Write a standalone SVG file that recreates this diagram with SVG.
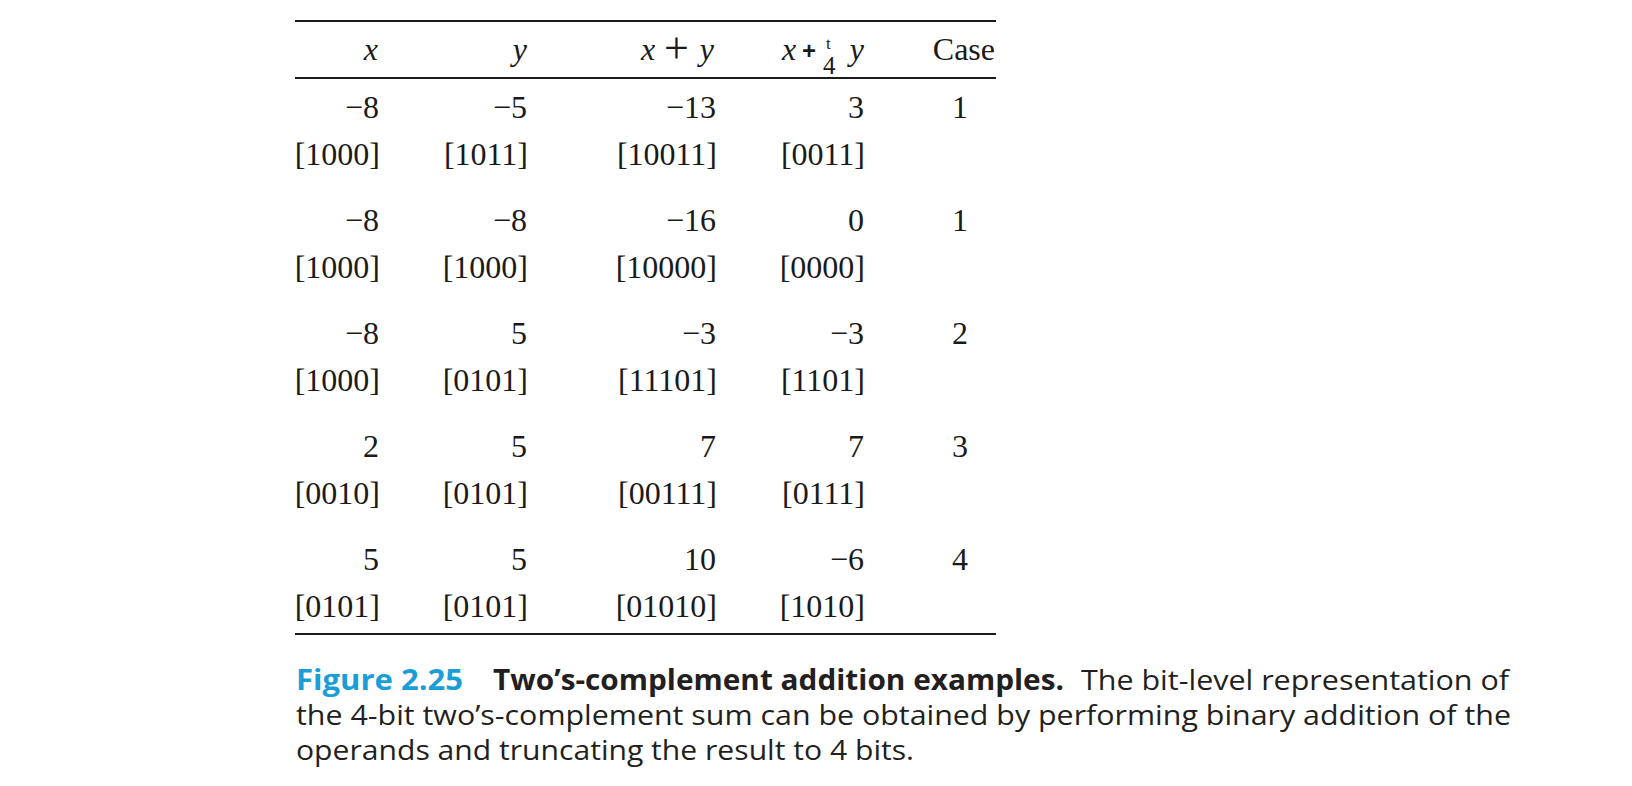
<svg xmlns="http://www.w3.org/2000/svg" width="1632" height="786" viewBox="0 0 1632 786">
<style>
.t{font-family:"Liberation Serif","Times New Roman",serif;font-size:32px;fill:#1a1a1a}
.e{text-anchor:end}
.m{text-anchor:middle}
.i{font-style:italic}
.rule{stroke:#1a1a1a;stroke-width:2}
.cap{font-family:"Open Sans","Noto Sans",sans-serif;font-size:28px;fill:#231f20}
.b{font-weight:bold}
.blue{fill:#1a9ed8}
</style>
<rect width="1632" height="786" fill="#ffffff"/>
<g id="rules">
<line class="rule" x1="295" y1="21" x2="996" y2="21"/>
<line class="rule" x1="295" y1="78" x2="996" y2="78"/>
<line class="rule" x1="295" y1="634" x2="996" y2="634"/>
</g>
<g id="header">
<text class="t e i" x="378" y="60">x</text>
<text class="t e i" x="527" y="60">y</text>
<text class="t i" x="641" y="60">x</text>
<text class="t" style="font-size:44px" x="664" y="63">+</text>
<text class="t e i" x="714" y="60">y</text>
<text class="t i" x="782" y="60">x</text>
<text style="font-family:'Liberation Sans',sans-serif;font-size:24px;font-weight:bold;fill:#1a1a1a" x="802" y="59">+</text>
<text class="t" style="font-size:17px" x="826" y="49">t</text>
<text class="t" style="font-size:25px" x="823" y="74">4</text>
<text class="t e i" x="864" y="60">y</text>
<text class="t e" x="995" y="60">Case</text>
</g>
<g id="row1">
<text class="t e" x="379" y="118">−8</text><text class="t e" x="527" y="118">−5</text><text class="t e" x="716" y="118">−13</text><text class="t e" x="864" y="118">3</text><text class="t m" x="960" y="118">1</text>
<text class="t e" x="380" y="165">[1000]</text><text class="t e" x="528" y="165">[1011]</text><text class="t e" x="717" y="165">[10011]</text><text class="t e" x="865" y="165">[0011]</text>
</g>
<g id="row2">
<text class="t e" x="379" y="231">−8</text><text class="t e" x="527" y="231">−8</text><text class="t e" x="716" y="231">−16</text><text class="t e" x="864" y="231">0</text><text class="t m" x="960" y="231">1</text>
<text class="t e" x="380" y="278">[1000]</text><text class="t e" x="528" y="278">[1000]</text><text class="t e" x="717" y="278">[10000]</text><text class="t e" x="865" y="278">[0000]</text>
</g>
<g id="row3">
<text class="t e" x="379" y="344">−8</text><text class="t e" x="527" y="344">5</text><text class="t e" x="716" y="344">−3</text><text class="t e" x="864" y="344">−3</text><text class="t m" x="960" y="344">2</text>
<text class="t e" x="380" y="391">[1000]</text><text class="t e" x="528" y="391">[0101]</text><text class="t e" x="717" y="391">[11101]</text><text class="t e" x="865" y="391">[1101]</text>
</g>
<g id="row4">
<text class="t e" x="379" y="457">2</text><text class="t e" x="527" y="457">5</text><text class="t e" x="716" y="457">7</text><text class="t e" x="864" y="457">7</text><text class="t m" x="960" y="457">3</text>
<text class="t e" x="380" y="504">[0010]</text><text class="t e" x="528" y="504">[0101]</text><text class="t e" x="717" y="504">[00111]</text><text class="t e" x="865" y="504">[0111]</text>
</g>
<g id="row5">
<text class="t e" x="379" y="570">5</text><text class="t e" x="527" y="570">5</text><text class="t e" x="716" y="570">10</text><text class="t e" x="864" y="570">−6</text><text class="t m" x="960" y="570">4</text>
<text class="t e" x="380" y="617">[0101]</text><text class="t e" x="528" y="617">[0101]</text><text class="t e" x="717" y="617">[01010]</text><text class="t e" x="865" y="617">[1010]</text>
</g>
<g id="caption">
<text class="cap b blue" x="296" y="690" textLength="167" lengthAdjust="spacingAndGlyphs">Figure 2.25</text>
<text class="cap b" x="493" y="690" textLength="571" lengthAdjust="spacingAndGlyphs">Two’s-complement addition examples.</text>
<text class="cap" x="1081" y="690" textLength="428" lengthAdjust="spacingAndGlyphs">The bit-level representation of</text>
<text class="cap" x="296" y="725" textLength="1215" lengthAdjust="spacingAndGlyphs">the 4-bit two’s-complement sum can be obtained by performing binary addition of the</text>
<text class="cap" x="296" y="760" textLength="618" lengthAdjust="spacingAndGlyphs">operands and truncating the result to 4 bits.</text>
</g>
</svg>
